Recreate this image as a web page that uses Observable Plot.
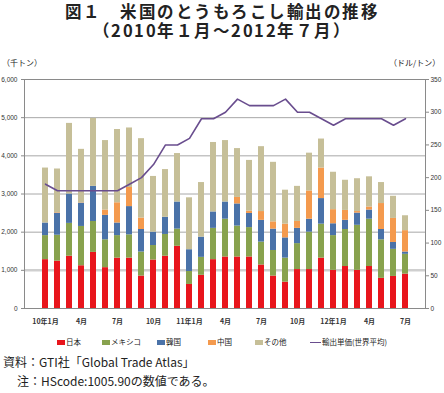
<!DOCTYPE html>
<html><head><meta charset="utf-8">
<script src="https://cdn.jsdelivr.net/npm/d3@7"></script>
<script src="https://cdn.jsdelivr.net/npm/@observablehq/plot@0.6"></script>
<style>
@font-face{font-family:"TitleJP";src:local("Noto Sans CJK JP Bold"),local("NotoSansCJKjp-Bold");font-weight:bold;ascent-override:90%;descent-override:12%;line-gap-override:0%}
body{margin:0;width:444px;height:393px;position:relative;background:#fff;font-family:"Noto Sans CJK JP",sans-serif;overflow:hidden;color:#222}
.t{position:absolute;white-space:nowrap}
.ttl{position:absolute;left:0;width:444px;text-align:center;font-family:"TitleJP","Noto Sans CJK JP",sans-serif;font-size:16.5px;font-weight:bold;letter-spacing:1.5px;line-height:17px;white-space:nowrap}
#chart{position:absolute;left:0;top:70px}
.lg{position:absolute;top:337px;font-size:7.5px;line-height:10px;white-space:nowrap}
.sw{display:inline-block;width:8px;height:5px;vertical-align:middle;margin-right:1px;margin-top:-1px}
</style></head><body>
<div class="ttl" style="top:3px">図１　米国のとうもろこし輸出の推移</div>
<div class="ttl" style="top:21.5px">（2010年１月～2012年７月）</div>
<div class="t" style="left:2px;top:57px;font-size:8px;line-height:12px">（千トン）</div>
<div class="t" style="left:389px;top:57px;font-size:8px;line-height:12px">（ドル/トン）</div>
<div id="chart"></div>
<div id="legend"></div>
<div class="t" style="left:3px;top:354px;font-size:12px;line-height:16px">資料：GTI社「Global Trade Atlas」</div>
<div class="t" style="left:17px;top:373px;font-size:12px;line-height:16px">注：HScode:1005.90の数値である。</div>
<script>
const months = ["2010-01","2010-02","2010-03","2010-04","2010-05","2010-06","2010-07","2010-08","2010-09","2010-10","2010-11","2010-12",
"2011-01","2011-02","2011-03","2011-04","2011-05","2011-06","2011-07","2011-08","2011-09","2011-10","2011-11","2011-12",
"2012-01","2012-02","2012-03","2012-04","2012-05","2012-06","2012-07"];
const tickLabels = {"2010-01":"10年1月","2010-04":"4月","2010-07":"7月","2010-10":"10月","2011-01":"11年1月","2011-04":"4月","2011-07":"7月","2011-10":"10月","2012-01":"12年1月","2012-04":"4月","2012-07":"7月"};
const countries = ["日本","メキシコ","韓国","中国","その他"];
const colors = ["#e8151c","#88a24e","#4a72a8","#f49a4e","#c6bf98"];
const japan  = [1280,1240,1370,1120,1470,1070,1320,1320,850,1270,1370,1630,630,870,1280,1350,1350,1350,1140,850,690,1020,1020,1320,1000,1100,1000,1100,790,840,900];
const mexico = [630,680,860,1030,810,730,590,610,630,380,570,450,340,470,820,990,810,770,600,670,630,680,980,890,910,970,1180,1240,1010,710,520];
const korea  = [330,575,770,610,920,640,330,740,590,350,450,710,570,530,430,450,580,370,570,560,530,400,340,670,310,240,320,240,270,180,60];
const china  = [0,15,0,10,0,140,530,500,300,0,0,0,0,0,0,0,170,60,230,190,360,180,740,800,370,260,40,80,680,630,560];
const other  = [1440,1145,1850,1400,1780,1820,1920,1560,2080,1460,1250,1270,1360,1430,1820,1610,1280,1330,1700,1560,890,920,990,760,980,790,860,790,550,580,390];
const price  = [190,180,180,180,180,180,180,190,200,220,250,250,260,290,290,300,320,310,310,310,320,300,300,290,280,290,290,290,290,280,290];
const leftTicks = [0,1000,2000,3000,4000,5000,6000];
const rightTicks = [0,50,100,150,200,250,300,350];
const lineLabel = "輸出単価(世界平均)";

const series = [japan, mexico, korea, china, other];
const rows = [];
countries.forEach((c, i) => months.forEach((m, j) => rows.push({month: m, country: c, value: series[i][j]})));
const priceRows = months.map((m, j) => ({month: m, price: price[j]}));
const k = 6000 / 350;

const plot = Plot.plot({
  width: 444, height: 262,
  marginTop: 9, marginBottom: 24, marginLeft: 24, marginRight: 19,
  style: {fontFamily: "Liberation Sans, Arial, sans-serif", fontSize: "6.5px", color: "#333", background: "transparent"},
  x: {domain: months, paddingInner: 0.53, paddingOuter: 0.265, label: null},
  y: {domain: [0, 6000], label: null},
  color: {domain: countries, range: colors},
  marks: [
    Plot.ruleY(leftTicks.filter(d => d > 0 && d !== 1000), {stroke: "#a8a8a8", strokeWidth: 1}),
    Plot.ruleY([1000], {stroke: "#cfcfcf", strokeWidth: 2.5}),
    Plot.barY(rows, {x: "month", y: "value", fill: "country", order: countries}),
    Plot.line(priceRows, {x: "month", y: d => d.price * k, stroke: "#694d8e", strokeWidth: 1.6}),
    Plot.frame({stroke: "#8a8a8a"}),
    Plot.axisY(leftTicks, {anchor: "left", tickSize: 3, tickPadding: 4, tickFormat: d3.format(","), stroke: "#8a8a8a", fontSize: 6.5}),
    Plot.axisY(rightTicks.map(d => d * k), {anchor: "right", tickSize: 3, tickPadding: 2, tickFormat: d => String(Math.round(d / k)), stroke: "#8a8a8a", fontSize: 6.5}),
    Plot.axisX(Object.keys(tickLabels), {anchor: "bottom", tickSize: 0, tickPadding: 11, tickFormat: d => tickLabels[d], fontSize: 7, fontFamily: "Noto Sans CJK JP, sans-serif", fontWeight: "bold"})
  ]
});
document.getElementById("chart").appendChild(plot);

const lg = document.getElementById("legend");
const xs = [57, 102, 157, 208, 255];
countries.forEach((c, i) => {
  const d = document.createElement("div");
  d.className = "lg";
  d.style.left = xs[i] + "px";
  d.innerHTML = `<span class="sw" style="background:${colors[i]}"></span>${c}`;
  lg.appendChild(d);
});
const dl = document.createElement("div");
dl.className = "lg";
dl.style.left = "310px";
dl.innerHTML = `<span style="display:inline-block;width:11px;height:1.6px;background:#694d8e;vertical-align:middle;margin-right:1px;margin-top:-1px"></span>${lineLabel}`;
lg.appendChild(dl);
</script>
</body></html>
